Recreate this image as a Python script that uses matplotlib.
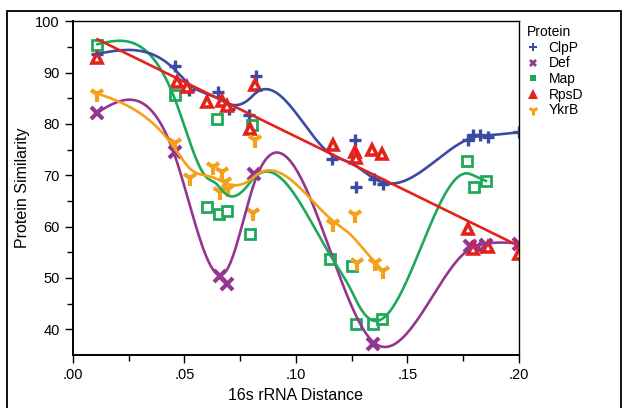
import numpy as np
import matplotlib.pyplot as plt
from matplotlib.lines import Line2D
from matplotlib.patches import Rectangle

plt.rcParams['font.family'] = ['Liberation Sans', 'DejaVu Sans']

# data
clpp_x = [0.011, 0.046, 0.052, 0.065, 0.070, 0.079, 0.082, 0.116, 0.1265, 0.127, 0.135, 0.139, 0.177, 0.1795, 0.1825, 0.186, 0.200]
clpp_y = [93.6, 91.3, 86.6, 86.3, 83.0, 81.7, 89.3, 73.2, 76.8, 67.8, 69.3, 68.3, 76.9, 77.8, 77.8, 77.4, 78.4]

def_x = [0.011, 0.046, 0.066, 0.069, 0.081, 0.1344, 0.178, 0.181, 0.185, 0.200]
def_y = [82.1, 74.5, 50.4, 48.9, 70.3, 37.2, 56.3, 56.0, 56.5, 56.7]

map_x = [0.011, 0.046, 0.060, 0.0644, 0.0656, 0.0689, 0.0794, 0.0801, 0.1155, 0.1253, 0.127, 0.1344, 0.1384, 0.1768, 0.1798, 0.1852]
map_y = [95.4, 85.7, 63.8, 81.0, 62.4, 63.0, 58.6, 79.7, 53.7, 52.4, 41.1, 41.1, 42.0, 72.8, 67.8, 68.9]

rpsd_x = [0.011, 0.0465, 0.051, 0.060, 0.0667, 0.0689, 0.0794, 0.0816, 0.1167, 0.1265, 0.127, 0.134, 0.1384, 0.1773, 0.1795, 0.1863, 0.200]
rpsd_y = [92.8, 88.2, 87.1, 84.3, 84.5, 83.5, 79.1, 87.6, 75.8, 74.5, 73.3, 74.9, 74.2, 59.6, 55.6, 56.0, 54.7]

ykrb_x = [0.011, 0.046, 0.0525, 0.0629, 0.0659, 0.0667, 0.0682, 0.0697, 0.0806, 0.0816, 0.1167, 0.1265, 0.1272, 0.1354, 0.139]
ykrb_y = [85.9, 76.2, 69.4, 71.6, 66.7, 70.6, 68.7, 67.4, 62.6, 76.8, 60.5, 62.2, 53.0, 53.0, 51.4]

x_ticks = [0.0, 0.05, 0.10, 0.15, 0.20]
x_labels = ['.00', '.05', '.10', '.15', '.20']


def spline_fit(x, y, lam, n=400):
    # penalized smoother on a fine grid (approximates a smoothing spline)
    x = np.asarray(x, float)
    y = np.asarray(y, float)
    g = np.linspace(x.min(), x.max(), n)
    h = g[1] - g[0]
    idx = np.clip(np.searchsorted(g, x) - 1, 0, n - 2)
    t = (x - g[idx]) / h
    A = np.zeros((len(x), n))
    A[np.arange(len(x)), idx] = 1 - t
    A[np.arange(len(x)), idx + 1] = t
    D = np.diff(np.eye(n), 2, axis=0) / h**2
    M = A.T @ A + lam * h * D.T @ D
    f = np.linalg.solve(M, A.T @ y)
    return g, f


fig = plt.figure(figsize=(6.23, 4.08), dpi=100)
ax = fig.add_axes([0.117, 0.130, 0.716, 0.818])

blue = '#3B4AA2'
purple = '#94368F'
green = '#1EA95A'
red = '#E3221B'
orange = '#F4A11A'

lam = 6e-8

ax.plot(clpp_x, clpp_y, '+', color=blue, ms=9, mew=2.4, ls='none')
ax.plot(def_x, def_y, 'x', color=purple, ms=8, mew=3, ls='none')
ax.plot(map_x, map_y, 's', color=green, ms=6.5, mew=2, mfc='white', ls='none')
ax.plot(rpsd_x, rpsd_y, '^', color=red, ms=7.5, mew=2.6, mfc='white', ls='none')
ax.plot(ykrb_x, ykrb_y, '1', color=orange, ms=11, mew=3, ls='none')

g, f = spline_fit(def_x, def_y, lam)
ax.plot(g, f, color=purple, lw=1.9)
g, f = spline_fit(map_x, map_y, lam)
ax.plot(g, f, color=green, lw=1.9)
g, f = spline_fit(ykrb_x, ykrb_y, lam)
ax.plot(g, f, color=orange, lw=1.9)
g, f = spline_fit(clpp_x, clpp_y, lam)
ax.plot(g, f, color=blue, lw=1.9)
coef = np.polyfit(rpsd_x, rpsd_y, 1)
xr = np.linspace(min(rpsd_x), max(rpsd_x), 50)
ax.plot(xr, np.polyval(coef, xr), color=red, lw=1.9)

ax.set_xlim(0, 0.2)
ax.set_ylim(35, 100)
ax.set_xticks(x_ticks)
ax.set_xticklabels(x_labels)
ax.set_xticks(np.arange(0.025, 0.2, 0.05), minor=True)
ax.set_yticks(np.arange(40, 101, 10))
ax.set_yticks(np.arange(45, 100, 10), minor=True)
ax.tick_params(which='major', direction='out', length=6, width=1, labelsize=10.5, colors='black')
ax.tick_params(which='minor', direction='out', length=4, width=1)
ax.spines['left'].set_linewidth(1.4)
ax.spines['bottom'].set_linewidth(1.4)
ax.spines['top'].set_linewidth(1)
ax.spines['right'].set_linewidth(1)
ax.set_xlabel('16s rRNA Distance', fontsize=11.5, labelpad=4)
ax.set_ylabel('Protein Similarity', fontsize=11.5, labelpad=4)

handles = [
    Line2D([], [], marker='P', color=blue, ls='none', ms=6, mew=0),
    Line2D([], [], marker='X', color=purple, ls='none', ms=6, mew=0),
    Line2D([], [], marker='s', color=green, ls='none', ms=5, mew=0),
    Line2D([], [], marker='^', color=red, ls='none', ms=6.5, mew=0),
    Line2D([], [], marker='1', color=orange, ls='none', ms=7, mew=2.2),
]
leg = fig.legend(handles, ['ClpP', 'Def', 'Map', 'RpsD', 'YkrB'], title='Protein',
                 loc='upper left', bbox_to_anchor=(0.836, 0.952), frameon=False,
                 fontsize=10, title_fontsize=10, handlelength=1.0,
                 handletextpad=0.6, labelspacing=0.12, borderaxespad=0)
leg._legend_box.align = 'left'

fig.patches.append(Rectangle((7 / 623, -0.05), 614 / 623, 1 - 11 / 408 + 0.05,
                             transform=fig.transFigure, fill=False,
                             edgecolor='black', lw=1.3))

fig.savefig('out.png', dpi=100)
